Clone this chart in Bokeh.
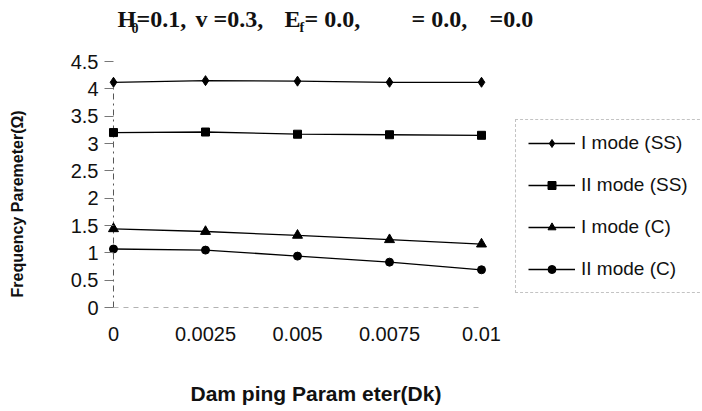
from bokeh.plotting import figure
from bokeh.models import (Range1d, FixedTicker, Legend, LegendItem, Label, Title)
from bokeh.embed import file_html
from bokeh.resources import INLINE

# ---- data ----
x_labels = ["0", "0.0025", "0.005", "0.0075", "0.01"]
x_idx = [0, 1, 2, 3, 4]
mode1_ss = [4.12, 4.15, 4.14, 4.12, 4.12]
mode2_ss = [3.20, 3.21, 3.17, 3.16, 3.15]
mode1_c = [1.44, 1.39, 1.32, 1.24, 1.16]
mode2_c = [1.07, 1.05, 0.94, 0.83, 0.69]
y_ticks = [0, 0.5, 1, 1.5, 2, 2.5, 3, 3.5, 4, 4.5]
y_tick_labels = ["0", "0.5", "1", "1.5", "2", "2.5", "3", "3.5", "4", "4.5"]
series_names = ["I mode (SS)", "II mode (SS)", "I mode (C)", "II mode (C)"]

FL, FB = 104, 307   # frame left / bottom in canvas pixels
p = figure(width=702, height=411, output_backend="svg", toolbar_location=None,
           x_range=Range1d(-0.0978, 6.402), y_range=Range1d(0, 5.616),
           min_border_left=FL, min_border_right=0, min_border_top=0,
           min_border_bottom=411 - FB)
p.outline_line_color = None
p.xgrid.visible = False
p.ygrid.visible = False

# axes
p.xaxis.ticker = FixedTicker(ticks=x_idx)
p.xaxis.major_label_overrides = {i: l for i, l in zip(x_idx, x_labels)}
p.xaxis.major_tick_out = 0
p.xaxis.major_tick_in = 0
p.xaxis.minor_tick_line_color = None
p.xaxis.axis_line_color = None
p.xaxis.major_label_standoff = 19
p.xaxis.major_label_text_font = "Liberation Sans"
p.xaxis.major_label_text_font_size = "20px"
p.xaxis.major_label_text_color = "#111111"
p.xaxis.axis_label = " "
p.xaxis.axis_label_text_font_size = "1px"
p.xaxis.axis_label_standoff = 33

p.yaxis.ticker = FixedTicker(ticks=y_ticks)
p.yaxis.major_label_overrides = {t: l for t, l in zip(y_ticks, y_tick_labels)}
p.yaxis.axis_line_color = None
p.yaxis.major_tick_out = 0
p.yaxis.major_tick_in = 9
p.yaxis.major_tick_line_color = "#777777"
p.yaxis.minor_tick_line_color = None
p.yaxis.major_label_standoff = 6
p.yaxis.major_label_text_font = "Liberation Sans"
p.yaxis.major_label_text_font_size = "20px"
p.yaxis.major_label_text_color = "#111111"
p.yaxis.axis_label = " "
p.yaxis.axis_label_text_font_size = "1px"
p.yaxis.axis_label_standoff = 33

# axis titles as side-panel titles (so they can be offset along the axis)
ytitle = Title(text="Frequency Paremeter(Ω)", align="left", offset=10,
               vertical_align="bottom", standoff=10,
               text_font="Liberation Sans", text_font_style="bold",
               text_font_size="16px", text_color="#111111")
p.add_layout(ytitle, "left")
xtitle = Title(text="Dam ping Param eter(Dk)", align="left", offset=86,
               vertical_align="top", standoff=2,
               text_font="Liberation Sans", text_font_style="bold",
               text_font_size="21px", text_color="#111111")
p.add_layout(xtitle, "below")

# axis lines drawn over the data extent
p.segment(x0=[x_idx[0]], y0=[0], x1=[x_idx[-1]], y1=[0],
          line_color="#666666", line_dash="5 5", line_width=1)
p.segment(x0=[x_idx[0]], y0=[0], x1=[x_idx[0]], y1=[max(mode1_ss)],
          line_color="#555555", line_dash="dashdot", line_width=1)

# series
series = [mode1_ss, mode2_ss, mode1_c, mode2_c]
markers = ["diamond", "square", "triangle", "circle"]
sizes = [10, 8, 10, 8]
items = []
for name, ys, mk, sz in zip(series_names, series, markers, sizes):
    r_line = p.line(x_idx, ys, line_color="black", line_width=1.3)
    r_pt = p.scatter(x_idx, ys, marker=mk, size=sz, fill_color="black",
                     line_color="black")
    items.append(LegendItem(label=name, renderers=[r_line, r_pt]))

legend = Legend(items=items, location=(515 - FL, FB - 293))
legend.margin = 0
legend.padding = 12
legend.spacing = 20
legend.glyph_width = 47
legend.glyph_height = 20
legend.label_height = 20
legend.label_width = 111
legend.label_standoff = 6
legend.label_text_font = "Liberation Sans"
legend.label_text_font_size = "19px"
legend.label_text_color = "#111111"
legend.border_line_color = "#888888"
legend.border_line_dash = "4 4"
legend.background_fill_alpha = 0
p.add_layout(legend)

# title pieces (canvas x, baseline y), placed relative to frame bottom-left
title_parts = [
    ("H", 117, 18, "24px"),
    ("0", 131, 27, "14px"),
    ("=0.1,", 136, 18, "24px"),
    ("v =0.3,", 195, 18, "24px"),
    ("E", 284, 18, "24px"),
    ("f", 299, 27, "14px"),
    ("= 0.0,", 304, 18, "24px"),
    ("= 0.0,", 411, 18, "24px"),
    ("=0.0", 489, 18, "24px"),
]
for txt, cx, cy, fs in title_parts:
    p.add_layout(Label(x=cx - FL, y=FB - cy, x_units="screen", y_units="screen",
                       text=txt, text_font="Liberation Serif",
                       text_font_style="bold", text_font_size=fs,
                       text_color="#111111", text_baseline="alphabetic"))

open("out.html", "w").write(file_html(p, INLINE))
